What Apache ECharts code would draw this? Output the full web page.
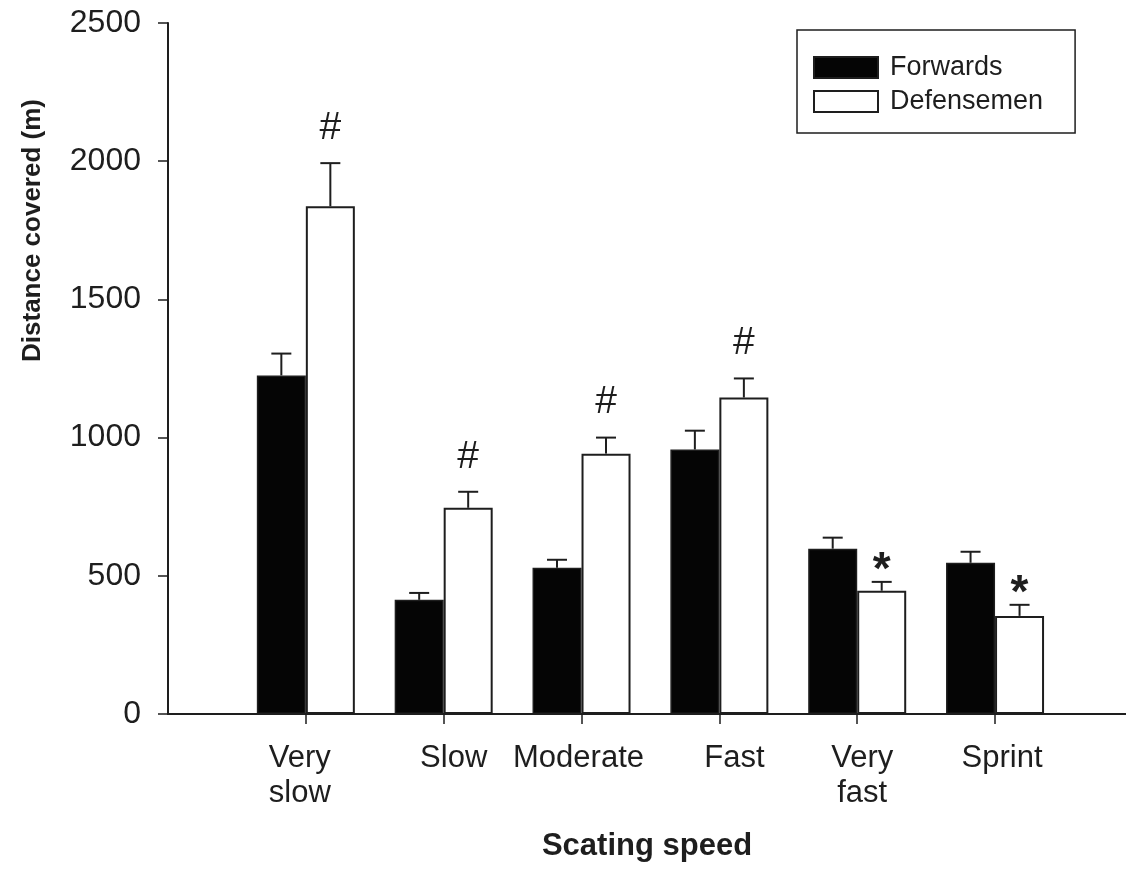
<!DOCTYPE html>
<html>
<head>
<meta charset="utf-8">
<script src="https://cdn.jsdelivr.net/npm/echarts@6/dist/echarts.min.js"></script>
<style>
  html, body { margin: 0; padding: 0; background: #fff; }
  #main { width: 1126px; height: 869px; }
</style>
</head>
<body>
<div id="main"></div>
<script>
var categories = ['Very\nslow', 'Slow', 'Moderate', 'Fast', 'Very\nfast', 'Sprint'];
var forwardsMean = [1225, 413, 529, 957, 598, 547];
var forwardsSE = [79, 25, 29, 68, 40, 40];
var defenseMean = [1837, 746, 942, 1145, 446, 355];
var defenseSE = [156, 58, 58, 69, 32, 40];
var marks = ['#', '#', '#', '#', '*', '*'];

var barW = 49;
// small horizontal nudges so the labels sit where the original put them
var labelShift = [-6, 10, -3, 15, 5, 7];

var fontFam = '"Liberation Sans", Arial, sans-serif';
var ink = '#1e1e1e';

function pairs(vals) {
    var out = [];
    for (var i = 0; i < vals.length; i++) out.push([i + 1, vals[i]]);
    return out;
}

function errData(mean, se) {
    var out = [];
    for (var i = 0; i < mean.length; i++) out.push([i + 1, mean[i], mean[i] + se[i], marks[i]]);
    return out;
}

function makeErrRender(side, withMarks) {
    return function (params, api) {
        var base = api.coord([api.value(0), api.value(1)]);
        var top = api.coord([api.value(0), api.value(2)]);
        var x = base[0] + side * barW / 2;
        var kids = [
            {type: 'line', shape: {x1: x, y1: base[1], x2: x, y2: top[1]}, style: {stroke: ink, lineWidth: 2}},
            {type: 'line', shape: {x1: x - 10, y1: top[1], x2: x + 10, y2: top[1]}, style: {stroke: ink, lineWidth: 2}}
        ];
        if (withMarks) {
            var m = marks[params.dataIndex];
            kids.push({
                type: 'text',
                style: {
                    x: x, y: top[1] - (m === '#' ? 35 : 11),
                    text: m,
                    fill: ink,
                    font: (m === '#' ? 'normal 39px ' : 'bold 46px ') + fontFam,
                    align: 'center', verticalAlign: 'middle'
                }
            });
        }
        return {type: 'group', children: kids};
    };
}

var rich = {};
labelShift.forEach(function (s, i) {
    rich['c' + i] = {
        fontSize: 31, fontFamily: fontFam, color: ink, lineHeight: 35,
        padding: s > 0 ? [0, 0, 0, 2 * s] : [0, -2 * s, 0, 0]
    };
});

var chart = echarts.init(document.getElementById('main'));
chart.setOption({
    backgroundColor: '#fff',
    animation: false,
    grid: {left: 168, right: 0, top: 23, bottom: 155},
    legend: {
        orient: 'vertical',
        left: 797, top: 30,
        itemWidth: 64, itemHeight: 21, itemGap: 7,
        padding: [24, 32, 18, 16],
        borderColor: ink, borderWidth: 1.5,
        icon: 'rect',
        textStyle: {fontSize: 27, fontFamily: fontFam, color: ink, lineHeight: 24, padding: [0, 0, 0, 7]},
        data: ['Forwards', 'Defensemen']
    },
    xAxis: {
        type: 'value',
        min: 0, max: 6.95,
        name: 'Scating speed',
        nameLocation: 'middle',
        nameGap: 117,
        nameTextStyle: {fontSize: 31, fontWeight: 'bold', fontFamily: fontFam, color: ink},
        splitLine: {show: false},
        axisLine: {show: true, lineStyle: {color: ink, width: 2}},
        axisTick: {show: true, length: 10, customValues: [1, 2, 3, 4, 5, 6], lineStyle: {color: ink, width: 1.5}},
        axisLabel: {
            margin: 27,
            customValues: [1, 2, 3, 4, 5, 6],
            rich: rich,
            formatter: function (v) {
                var i = Math.round(v) - 1;
                if (i < 0 || i >= categories.length) return '';
                return categories[i].split('\n').map(function (p) {
                    return '{c' + i + '|' + p + '}';
                }).join('\n');
            }
        }
    },
    yAxis: {
        type: 'value',
        min: 0, max: 2500, interval: 500,
        name: 'Distance covered (m)',
        nameLocation: 'middle',
        nameGap: 122,
        nameTextStyle: {fontSize: 26, fontWeight: 'bold', fontFamily: fontFam, color: ink, padding: [0, 0, 0, 276]},
        splitLine: {show: false},
        axisLine: {show: true, lineStyle: {color: ink, width: 2}},
        axisTick: {show: true, length: 10, lineStyle: {color: ink, width: 1.5}},
        axisLabel: {
            fontSize: 32, fontFamily: fontFam, color: ink, margin: 27,
            formatter: function (v) { return String(v); }
        }
    },
    series: [
        {
            name: 'Forwards',
            type: 'bar',
            barWidth: barW,
            barGap: '0%',
            data: pairs(forwardsMean),
            itemStyle: {color: '#050505', borderColor: ink, borderWidth: 1.5}
        },
        {
            name: 'Defensemen',
            type: 'bar',
            barWidth: barW,
            barGap: '0%',
            data: pairs(defenseMean),
            itemStyle: {color: '#ffffff', borderColor: ink, borderWidth: 2}
        },
        {
            type: 'custom',
            renderItem: makeErrRender(-1, false),
            data: errData(forwardsMean, forwardsSE),
            z: 5
        },
        {
            type: 'custom',
            renderItem: makeErrRender(1, true),
            data: errData(defenseMean, defenseSE),
            z: 5
        }
    ]
});
</script>
</body>
</html>
